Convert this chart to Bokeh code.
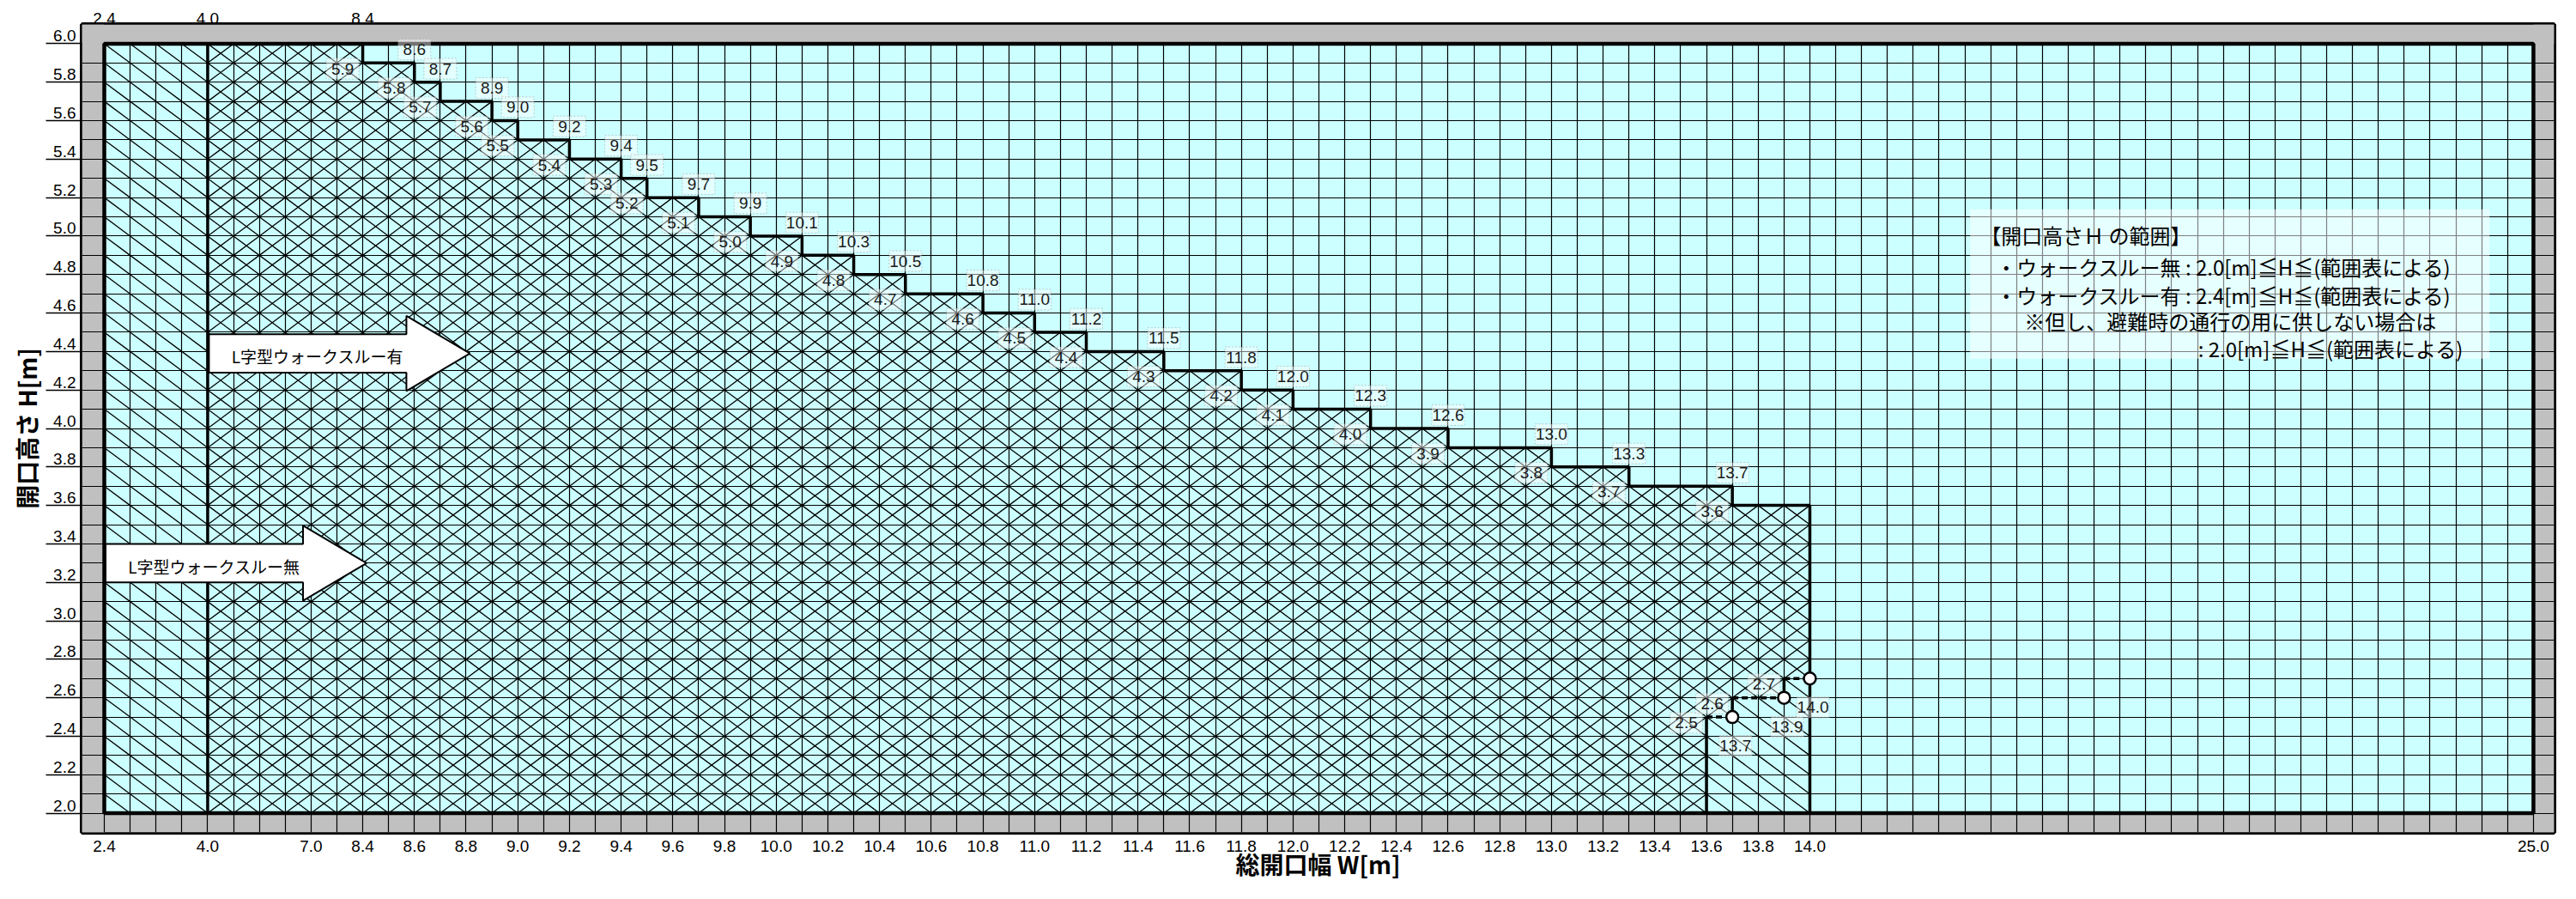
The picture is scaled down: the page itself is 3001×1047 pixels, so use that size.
import numpy as np
from bokeh.plotting import figure
from bokeh.models import Range1d, LinearAxis, FixedTicker, Grid
from bokeh.core.properties import value
from bokeh.embed import file_html
from bokeh.resources import INLINE

# ---------------- data ----------------
# non-linear width axis: W value -> column index
axis_W = [2.4, 4.0, 7.0, 8.4, 14.0, 25.0]
axis_col = [0, 4, 8, 10, 66, 94]

x_tick_W = [2.4, 4.0, 7.0, 8.4, 8.6, 8.8, 9.0, 9.2, 9.4, 9.6, 9.8, 10.0, 10.2, 10.4,
            10.6, 10.8, 11.0, 11.2, 11.4, 11.6, 11.8, 12.0, 12.2, 12.4, 12.6, 12.8,
            13.0, 13.2, 13.4, 13.6, 13.8, 14.0, 25.0]
top_tick_W = [2.4, 4.0, 8.4]
y_tick_H = [2.0, 2.2, 2.4, 2.6, 2.8, 3.0, 3.2, 3.4, 3.6, 3.8, 4.0,
            4.2, 4.4, 4.6, 4.8, 5.0, 5.2, 5.4, 5.6, 5.8, 6.0]

# staircase: maximum opening height H for widths up to step_W_end
step_H = [6.0, 5.9, 5.8, 5.7, 5.6, 5.5, 5.4, 5.3, 5.2, 5.1, 5.0, 4.9, 4.8,
          4.7, 4.6, 4.5, 4.4, 4.3, 4.2, 4.1, 4.0, 3.9, 3.8, 3.7, 3.6]
step_W_end = [8.4, 8.6, 8.7, 8.9, 9.0, 9.2, 9.4, 9.5, 9.7, 9.9, 10.1, 10.3, 10.5,
              10.8, 11.0, 11.2, 11.5, 11.8, 12.0, 12.3, 12.6, 13.0, 13.3, 13.7, 14.0]

none_start_W = 2.4      # L-type, without walk-through
yes_start_W = 4.0       # L-type, with walk-through
H_floor = 2.0
H_top = 6.0
# bottom-right limits of the "with walk-through" region
yes_right_W = [13.6, 13.7, 13.9, 14.0]
yes_bottom_H = [2.0, 2.5, 2.6, 2.7]

title_x = "総開口幅 W[m]"
title_y = "開口高さ H[m]"
arrow_texts = ["L字型ウォークスルー無", "L字型ウォークスルー有"]
arrow_start_W = [2.4, 4.0]
arrow_mid_H = [3.30, 4.39]
note_lines = ["【開口高さＨ の範囲】",
              "・ウォークスルー無 : 2.0[m]≦H≦(範囲表による)",
              "・ウォークスルー有 : 2.4[m]≦H≦(範囲表による)",
              "※但し、避難時の通行の用に供しない場合は",
              ": 2.0[m]≦H≦(範囲表による)"]

# ---------------- helpers ----------------
def wx(w):
    return np.interp(np.asarray(w, dtype=float), axis_W, axis_col)

ROW = 0.1
NUM = "Liberation Sans"
JP = "Noto Sans CJK JP"
CYAN = "#CCFFFF"
GRAY = "#C0C0C0"

x_lo, x_hi = -0.864, 94.80
y_lo, y_hi = 1.9, 6.1

p = figure(width=2985, height=1031,
           x_range=Range1d(x_lo, x_hi), y_range=Range1d(y_lo, y_hi),
           x_axis_type=None, y_axis_type=None,
           output_backend="svg", toolbar_location=None,
           min_border_left=95, min_border_right=10,
           min_border_top=28, min_border_bottom=62)
p.background_fill_color = CYAN
p.border_fill_color = "white"
p.outline_line_color = "black"
p.outline_line_width = 5

c0 = float(wx(none_start_W))
cN = float(wx(axis_W[-1]))

# grid (one cell per column / 0.1 m)
col_lines = list(range(int(axis_col[0]), int(axis_col[-1]) + 1))
row_lines = [round(H_floor + ROW * k, 1) for k in range(int(round((H_top - H_floor) / ROW)) + 1)]
p.add_layout(Grid(dimension=0, ticker=FixedTicker(ticks=col_lines),
                  grid_line_color="black", grid_line_width=1.2))
p.add_layout(Grid(dimension=1, ticker=FixedTicker(ticks=row_lines),
                  grid_line_color="black", grid_line_width=1.2))

# gray border strips
p.quad(left=[x_lo, cN, x_lo], right=[c0, x_hi, x_hi],
       bottom=[y_lo, y_lo, y_lo], top=[y_hi, y_hi, H_floor],
       fill_color=GRAY, line_color=None, level="image")
p.quad(left=[x_lo], right=[x_hi], bottom=[H_top], top=[y_hi],
       fill_color=GRAY, line_color=None)

# hatching: "\" = without walk-through, "/" = with walk-through
step_x = wx(step_W_end)
yes_x = wx(yes_right_W)
c_start = int(round(wx(none_start_W)))
c_yes = int(round(wx(yes_start_W)))
c_end = int(round(step_x[-1]))
hx0, hy0, hx1, hy1 = [], [], [], []
for c in range(c_start, c_end):
    i = next(j for j in range(len(step_x)) if step_x[j] >= c + 1 - 1e-6)
    n = int(round((step_H[i] - H_floor) / ROW))
    for r in range(n):
        yb = H_floor + r * ROW
        hx0.append(c); hy0.append(yb + ROW); hx1.append(c + 1); hy1.append(yb)
    if c >= c_yes:
        k = next(j for j in range(len(yes_x)) if yes_x[j] >= c + 1 - 1e-6)
        rb = int(round((yes_bottom_H[k] - H_floor) / ROW))
        for r in range(rb, n):
            yb = H_floor + r * ROW
            hx0.append(c); hy0.append(yb); hx1.append(c + 1); hy1.append(yb + ROW)
p.segment(hx0, hy0, hx1, hy1, line_color="black", line_width=1.3)

# staircase boundary
sx, sy = [step_x[0]], [step_H[0]]
for i in range(1, len(step_H)):
    sx += [step_x[i - 1], step_x[i]]
    sy += [step_H[i], step_H[i]]
sx.append(step_x[-1]); sy.append(H_floor)
p.line(sx, sy, line_color="black", line_width=3.5)
p.line([c_yes, c_yes], [H_floor, H_top], line_color="black", line_width=3.5)

# bottom-right limits
p.segment(x0=yes_x[:-1], y0=yes_bottom_H[:-1], x1=yes_x[:-1], y1=yes_bottom_H[1:],
          line_color="black", line_width=3.5)
p.segment(x0=yes_x[:-1], y0=yes_bottom_H[1:], x1=yes_x[1:], y1=yes_bottom_H[1:],
          line_color="black", line_width=3.5, line_dash="7 4")

# inner border of the data area
p.quad(left=[c0], right=[cN], bottom=[H_floor], top=[H_top],
       fill_color=None, line_color="black", line_width=4.5)

# value labels
lx, ly, lt = [], [], []
for i in range(1, len(step_H) - 1):
    lx.append(step_x[i]); ly.append(step_H[i] + 0.07); lt.append(f"{step_W_end[i]:.1f}")
for i in range(1, len(step_H)):
    lx.append(step_x[i - 1] - 0.78); ly.append(step_H[i] - 0.03); lt.append(f"{step_H[i]:.1f}")
for k in range(1, len(yes_x)):
    lx.append(yes_x[k - 1] - 0.78); ly.append(yes_bottom_H[k] - 0.03); lt.append(f"{yes_bottom_H[k]:.1f}")
    lx.append(yes_x[k] + 0.12); ly.append(yes_bottom_H[k] - 0.15); lt.append(f"{yes_right_W[k]:.1f}")
p.rect(lx, ly, width=38, height=24, width_units="screen", height_units="screen",
       fill_color="white", fill_alpha=0.45, line_color="#9a9a9a", line_alpha=0.5,
       line_dash="2 2", line_width=1)
p.text(lx, ly, text=lt, text_font=value(NUM), text_font_size="19px",
       text_align="center", text_baseline="middle", text_color="#1a1a1a")

# circles at the bottom-right corners
p.scatter(yes_x[1:], yes_bottom_H[1:], size=14, fill_color="white",
          line_color="black", line_width=2.5)

# arrows
axs, ays = [], []
for sW, mH in zip(arrow_start_W, arrow_mid_H):
    x0 = float(wx(sW)) + 0.05
    axs.append([x0, x0 + 7.64, x0 + 7.64, x0 + 10.1, x0 + 7.64, x0 + 7.64, x0])
    ays.append([mH + 0.1, mH + 0.1, mH + 0.195, mH, mH - 0.195, mH - 0.1, mH - 0.1])
p.patches(axs, ays, fill_color="white", line_color="black", line_width=2)
p.text([float(wx(s)) + 4.25 for s in arrow_start_W], [m - 0.015 for m in arrow_mid_H],
       text=arrow_texts, text_font=value(JP), text_font_size="19px",
       text_align="center", text_baseline="middle", text_color="black")

# note box
p.quad(left=[72.2], right=[92.3], bottom=[4.363], top=[5.139],
       fill_color="white", fill_alpha=0.5, line_color=None)
p.text([72.6, 73.2, 73.2, 74.3], [5.005, 4.84, 4.693, 4.559], text=note_lines[:4],
       text_font=value(JP), text_font_size="24px", text_align="left",
       text_baseline="middle", text_color="black")
p.text([91.3], [4.417], text=note_lines[4:], text_font=value(JP), text_font_size="24px",
       text_align="right", text_baseline="middle", text_color="black")

# ---------------- axes ----------------
xt = [int(round(v)) for v in wx(x_tick_W)]
xaxis = LinearAxis(ticker=FixedTicker(ticks=xt),
                   major_label_overrides={t: f"{w:.1f}" for t, w in zip(xt, x_tick_W)},
                   major_tick_out=0, major_tick_in=0, axis_line_color=None,
                   major_label_standoff=9, major_label_text_font=NUM,
                   major_label_text_font_size="19px", major_label_text_color="black",
                   axis_label=title_x, axis_label_standoff=-9,
                   axis_label_text_font=JP, axis_label_text_font_style="bold",
                   axis_label_text_font_size="28px", axis_label_text_color="black")
p.add_layout(xaxis, "below")

tt = [int(round(v)) for v in wx(top_tick_W)]
taxis = LinearAxis(ticker=FixedTicker(ticks=tt),
                   major_label_overrides={t: f"{w:.1f}" for t, w in zip(tt, top_tick_W)},
                   major_tick_out=0, major_tick_in=0, axis_line_color=None,
                   major_label_standoff=1, major_label_text_font=NUM,
                   major_label_text_font_size="19px", major_label_text_color="black")
p.add_layout(taxis, "above")

tick_len = 42
lab_shift = 0.04
y_lab_pos = [round(h + lab_shift, 3) for h in y_tick_H]
yaxis = LinearAxis(ticker=FixedTicker(ticks=y_lab_pos, minor_ticks=y_tick_H),
                   major_label_overrides={pos: f"{h:.1f}" for pos, h in zip(y_lab_pos, y_tick_H)},
                   major_tick_out=0, major_tick_in=0, major_tick_line_color=None,
                   minor_tick_out=tick_len, minor_tick_in=0, minor_tick_line_color="black",
                   minor_tick_line_width=1.5, axis_line_color=None,
                   major_label_standoff=7 - tick_len, major_label_text_font=NUM,
                   major_label_text_font_size="19px", major_label_text_color="black",
                   axis_label=title_y, axis_label_standoff=8,
                   axis_label_text_font=JP, axis_label_text_font_style="bold",
                   axis_label_text_font_size="28px", axis_label_text_color="black")
p.add_layout(yaxis, "left")

open("out.html", "w").write(file_html(p, INLINE))
